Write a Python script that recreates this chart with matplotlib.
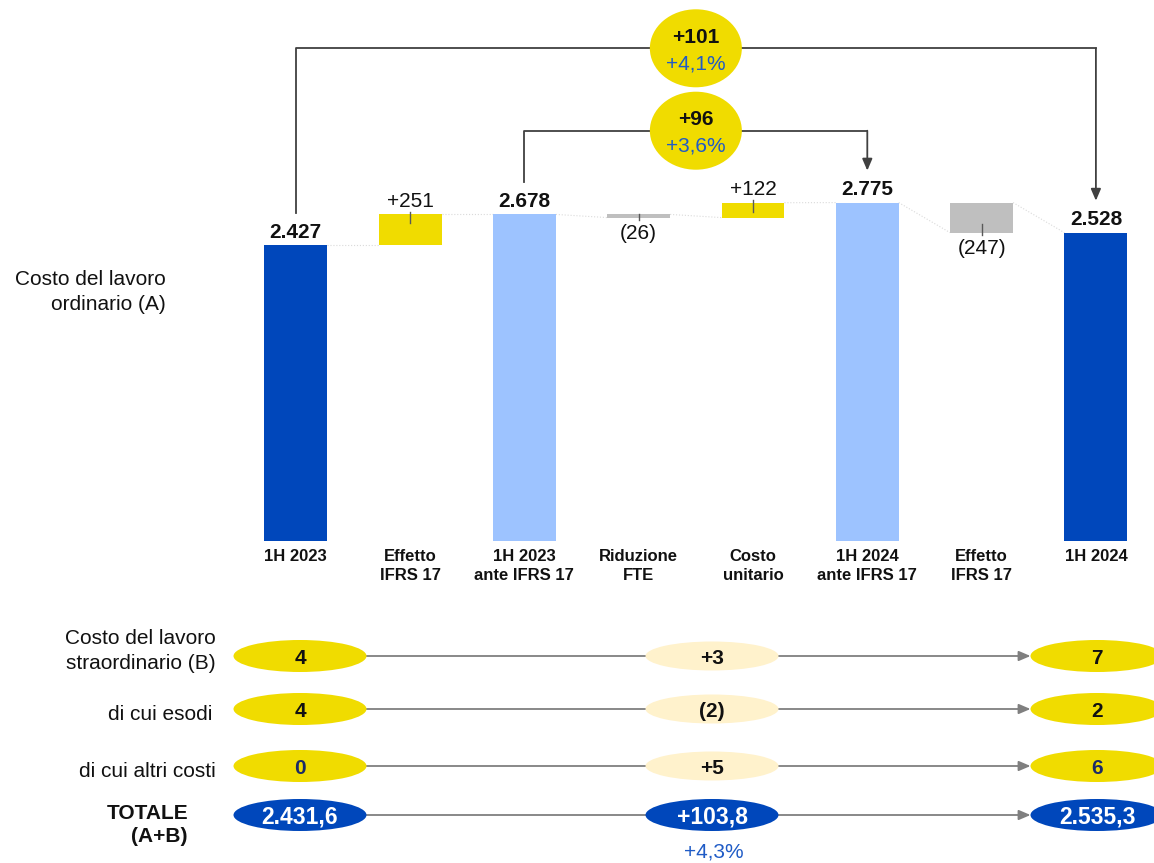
import numpy as np
import matplotlib.pyplot as plt
from matplotlib.patches import Ellipse

plt.rcParams['font.family'] = ['Liberation Sans', 'DejaVu Sans']

# waterfall data
categories = ["1H 2023", "Effetto\nIFRS 17", "1H 2023\nante IFRS 17", "Riduzione\nFTE",
              "Costo\nunitario", "1H 2024\nante IFRS 17", "Effetto\nIFRS 17", "1H 2024"]
values = [2427, 251, 2678, -26, 122, 2775, -247, 2528]
is_total = [True, False, True, False, False, True, False, True]

# top brackets
bracket_start = [0, 2]
bracket_end = [7, 5]
bracket_delta = ["+101", "+96"]
bracket_pct = ["+4,1%", "+3,6%"]

# lower table
row_labels = ["Costo del lavoro\nstraordinario (B)", "di cui esodi", "di cui altri costi", "TOTALE\n(A+B)"]
row_start = ["4", "4", "0", "2.431,6"]
row_change = ["+3", "(2)", "+5", "+103,8"]
row_end = ["7", "2", "6", "2.535,3"]
total_pct = "+4,3%"

DARK = '#0047BB'
LIGHT = '#9DC3FF'
YELLOW = '#F0DC00'
GREY = '#BFBFBF'
PALE = '#FFF2CC'
PCT = '#1F5BC6'
NAVY = '#1C2B66'
LINE = '#404040'
TXT = '#111111'

row_text_color = [TXT, TXT, NAVY, 'white']

W, H = 1154, 863
fig = plt.figure(figsize=(W / 100, H / 100), dpi=100)

# overlay axes in pixel coordinates (y down)
ov = fig.add_axes([0, 0, 1, 1])
ov.set_xlim(0, W)
ov.set_ylim(H, 0)
ov.axis('off')

# waterfall axes
x0, step = 295.8, 114.3
base_px = 541
upp = 8.2  # value units per pixel
left = x0 - step / 2
ax = fig.add_axes([left / W, (H - base_px) / H, 8 * step / W, base_px / H])
ax.set_xlim(-0.5, 7.5)
ax.set_ylim(0, base_px * upp)
ax.patch.set_visible(False)
for s in ax.spines.values():
    s.set_visible(False)
ax.set_yticks([])

bottoms, tops = [], []
run = 0
for v, tot in zip(values, is_total):
    if tot:
        b, t = 0, v
        run = v
    else:
        b, t = sorted([run, run + v])
        run += v
    bottoms.append(b)
    tops.append(t)

n = len(values)
colors = []
for i, (v, tot) in enumerate(zip(values, is_total)):
    if tot:
        colors.append(DARK if i in (0, n - 1) else LIGHT)
    else:
        colors.append(YELLOW if v > 0 else GREY)

x = np.arange(n)
bw = 0.55
ax.bar(x, np.array(tops) - np.array(bottoms), bottom=bottoms, width=bw, color=colors, zorder=2)

# faint connectors
for i in range(n - 1):
    ya = tops[i]
    yb = tops[i + 1] if is_total[i + 1] else bottoms[i + 1]
    ax.plot([i + bw / 2, i + 1 - bw / 2], [ya, yb], color='#DADADA', lw=0.8, ls=':', zorder=1)

# value labels
FS = 15
for i, (v, tot) in enumerate(zip(values, is_total)):
    if tot:
        ax.annotate(f'{v:,}'.replace(',', '.'), (i, tops[i]), xytext=(0, 5.4),
                    textcoords='offset points', ha='center', va='baseline',
                    fontsize=FS, fontweight='bold', color=TXT)
        continue
    inner = min(9 * upp, tops[i] - bottoms[i])
    pad = 2.5 * upp
    if v > 0:
        ax.annotate(f'+{v}', (i, tops[i]), xytext=(0, 5.4), textcoords='offset points',
                    ha='center', va='baseline', fontsize=FS, color=TXT)
        ax.plot([i, i], [tops[i] + pad, tops[i] - inner], color='#595959', lw=1, zorder=3)
    else:
        ax.annotate(f'({-v})', (i, bottoms[i]), xytext=(0, -15.3), textcoords='offset points',
                    ha='center', va='baseline', fontsize=FS, color=TXT)
        ax.plot([i, i], [bottoms[i] - pad, bottoms[i] + inner], color='#595959', lw=1, zorder=3)

ax.set_xticks(x, categories, fontsize=12, fontweight='bold', linespacing=1.3)
ax.tick_params(axis='x', length=0, pad=6, colors=TXT)

# brackets with ellipses
levels_px = [48.3, 130.7]
gap = 32 * upp
for k, (a, b) in enumerate(zip(bracket_start, bracket_end)):
    lvl = (base_px - levels_px[k]) * upp
    ax.plot([a, a, b], [tops[a] + gap, lvl, lvl], color=LINE, lw=1.3, clip_on=False, zorder=3)
    ax.annotate('', xy=(b, tops[b] + gap), xytext=(b, lvl),
                arrowprops=dict(arrowstyle='-|>,head_length=0.7,head_width=0.3', color=LINE,
                                lw=1.3, shrinkA=0, shrinkB=0, mutation_scale=10), zorder=3)
    xm = (bracket_start[0] + bracket_end[0]) / 2
    ax.add_patch(Ellipse((xm, lvl), 92 / step, 78 * upp, facecolor=YELLOW, edgecolor='none',
                         zorder=4, clip_on=False))
    ax.annotate(bracket_delta[k], (xm, lvl), xytext=(0, 3.8), textcoords='offset points',
                ha='center', va='baseline', fontsize=FS, fontweight='bold', color=TXT, zorder=5)
    ax.annotate(bracket_pct[k], (xm, lvl), xytext=(0, -15.2), textcoords='offset points',
                ha='center', va='baseline', fontsize=FS, color=PCT, zorder=5)

# left label of the waterfall
ov.text(166, 292, "Costo del lavoro\nordinario (A)", ha='right', va='center',
        multialignment='right', fontsize=FS, linespacing=1.4, color=TXT)

# lower table
row_y = [656, 709, 766, 815]
label_x = [216, 212, 216, 188]
label_y = [651, 714, 771, 825]
label_ls = [1.4, 1.4, 1.4, 1.25]
xl, xm2, xr = 300, 712, 1097
ew = 133
for r, y in enumerate(row_y):
    tot = r == len(row_y) - 1
    ov.annotate('', xy=(xr - ew / 2, y), xytext=(xl + ew / 2, y),
                arrowprops=dict(arrowstyle='-|>,head_length=0.7,head_width=0.3', color='#7F7F7F',
                                lw=1.3, shrinkA=0, shrinkB=0, mutation_scale=10), zorder=1)
    side_fc = DARK if tot else YELLOW
    mid_fc = DARK if tot else PALE
    fs = 16.5 if tot else 15
    for cx, fc, txt in [(xl, side_fc, row_start[r]), (xm2, mid_fc, row_change[r]), (xr, side_fc, row_end[r])]:
        eh = 29 if fc == PALE else 32
        ov.add_patch(Ellipse((cx, y), ew, eh, facecolor=fc, edgecolor='none', zorder=2))
        col = TXT if fc == PALE else row_text_color[r]
        ov.text(cx, y + 0.36 * fs * 100 / 72, txt, ha='center', va='baseline', fontsize=fs,
                fontweight='bold', color=col, zorder=3)
    ov.text(label_x[r], label_y[r], row_labels[r], ha='right', va='center', multialignment='right',
            fontsize=FS, linespacing=label_ls[r], fontweight='bold' if tot else 'normal', color=TXT)

ov.text(xm2 + 2, 857, total_pct, ha='center', va='baseline', fontsize=FS, color=PCT)

fig.savefig('out.png', dpi=100)
